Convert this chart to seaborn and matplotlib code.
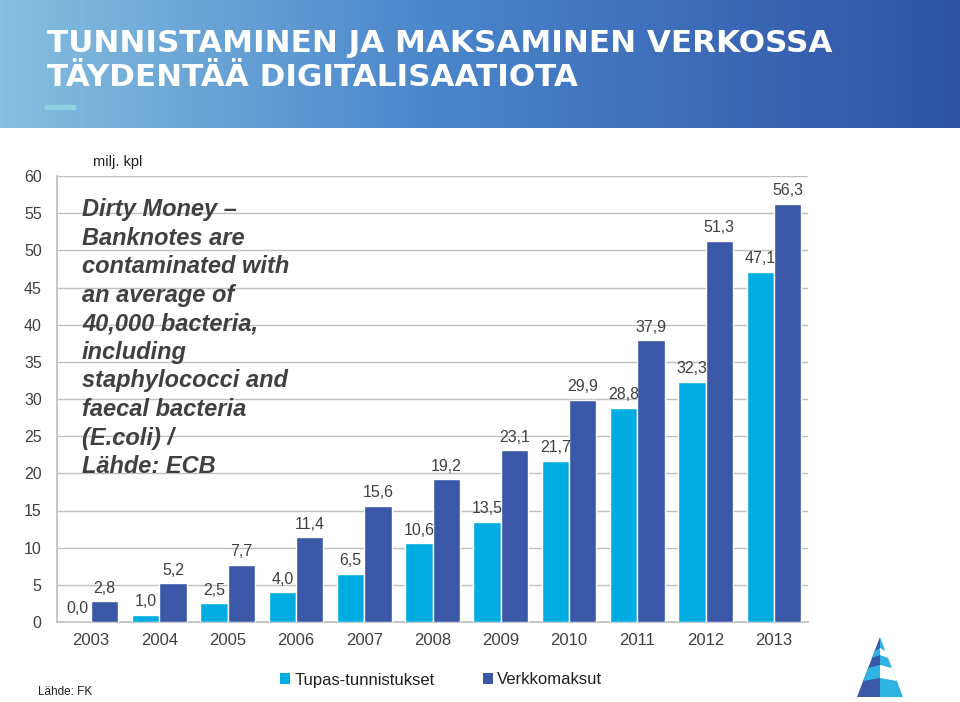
import numpy as np
import pandas as pd
import matplotlib
matplotlib.use("Agg")
import matplotlib.pyplot as plt
from matplotlib.patches import Patch, Polygon, Rectangle
import seaborn as sns

years = ["2003", "2004", "2005", "2006", "2007", "2008", "2009", "2010", "2011", "2012", "2013"]
tupas = [0.0, 1.0, 2.5, 4.0, 6.5, 10.6, 13.5, 21.7, 28.8, 32.3, 47.1]
verkko = [2.8, 5.2, 7.7, 11.4, 15.6, 19.2, 23.1, 29.9, 37.9, 51.3, 56.3]
series = ["Tupas-tunnistukset", "Verkkomaksut"]
colors = ["#00ADE2", "#3A57A8"]
y_ticks = [0, 5, 10, 15, 20, 25, 30, 35, 40, 45, 50, 55, 60]
title = "TUNNISTAMINEN JA MAKSAMINEN VERKOSSA\nTÄYDENTÄÄ DIGITALISAATIOTA"
note = ("Dirty Money –\nBanknotes are\ncontaminated with\nan average of\n40,000 bacteria,\n"
        "including\nstaphylococci and\nfaecal bacteria\n(E.coli) /\nLähde: ECB")

df = pd.DataFrame({
    "year": years * 2,
    "value": tupas + verkko,
    "series": [series[0]] * len(years) + [series[1]] * len(years),
})

sns.set_theme(style="white")
plt.rcParams["font.family"] = ["Liberation Sans", "DejaVu Sans"]

fig = plt.figure(figsize=(9.6, 7.02), dpi=100)

# header band with gradient
hax = fig.add_axes([0, 1 - 128 / 702, 1, 128 / 702])
grad = np.linspace(0, 1, 256)
c0 = np.array([0x86, 0xBF, 0xE0]) / 255
c1 = np.array([0x4A, 0x86, 0xCB]) / 255
c2 = np.array([0x2F, 0x52, 0xA6]) / 255
img = np.zeros((1, 256, 3))
for i, g in enumerate(grad):
    if g < 0.45:
        t = g / 0.45
        img[0, i] = c0 * (1 - t) + c1 * t
    else:
        t = (g - 0.45) / 0.55
        img[0, i] = c1 * (1 - t) + c2 * t
hax.imshow(img, aspect="auto", extent=[0, 1, 0, 1])
hax.set_xlim(0, 1); hax.set_ylim(0, 1)
hax.axis("off")
fig.text(47 / 960, 1 - 29 / 702, title, color="white", fontsize=22.3, fontweight="bold",
         va="top", ha="left", linespacing=1.2, family=["DejaVu Sans"])
fig.patches.append(Rectangle((45 / 960, 1 - 109 / 702), 30 / 960, 4 / 702,
                             transform=fig.transFigure, color="#8FD3E3", zorder=5))

ax = fig.add_axes([57 / 960, 1 - 622 / 702, (808 - 57) / 960, (622 - 176) / 702])
sns.barplot(data=df, x="year", y="value", hue="series", hue_order=series,
            palette=colors, width=0.8, saturation=1, legend=False, ax=ax, zorder=3)
ax.set_ylim(0, 60)
ax.set_xlim(-0.5, 10.5)
ax.set_yticks(y_ticks)
ax.yaxis.grid(True, color="#BFBFBF", linewidth=1, zorder=0)
ax.set_axisbelow(True)
ax.set_xlabel("")
ax.set_ylabel("")
for s in ["top", "right"]:
    ax.spines[s].set_visible(False)
ax.spines["left"].set_color("#BFBFBF")
ax.spines["bottom"].set_color("#BFBFBF")
ax.tick_params(axis="y", labelsize=11.5, colors="#404040", length=0, pad=11)
ax.tick_params(axis="x", labelsize=12, colors="#404040", length=0, pad=8)
ax.set_xticks(np.arange(-0.5, 11, 1), minor=True)
ax.tick_params(axis="x", which="minor", length=5, color="#BFBFBF", direction="out")

for cont in ax.containers:
    labs = [f"{b.get_height():.1f}".replace(".", ",") for b in cont]
    ax.bar_label(cont, labels=labs, padding=4, fontsize=11.5, color="#404040")

fig.text(93 / 960, 1 - 162 / 702, "milj. kpl", fontsize=10.5, color="#202020", va="center")
fig.text(82 / 960, 1 - 198 / 702, note, fontsize=17, fontweight="bold", fontstyle="italic",
         color="#404040", va="top", ha="left", linespacing=1.31)

handles = [Patch(facecolor=c, edgecolor="none") for c in colors]
fig.legend(handles, series, loc="center left", bbox_to_anchor=(265 / 960, 1 - 680 / 702), ncol=2,
           frameon=False, fontsize=12, handlelength=0.6, handleheight=0.6,
           handletextpad=0.25, columnspacing=2.9, labelcolor="#202020")

fig.text(38 / 960, 1 - 692 / 702, "Lähde: FK", fontsize=8.5, color="#202020", va="center")

# logo
def fp(x, y):
    return (x / 960, 1 - y / 702)
ax_x, ax_y, base_y, half = 880, 637, 697, 23

def xl(y):
    return ax_x - (y - ax_y) / (base_y - ax_y) * half

def xr(y):
    return ax_x + (y - ax_y) / (base_y - ax_y) * half

fig.patches.append(Polygon([fp(ax_x, ax_y), fp(xl(base_y), base_y), fp(ax_x, base_y)], closed=True,
                           transform=fig.transFigure, facecolor="#3A57A8", edgecolor="none"))
fig.patches.append(Polygon([fp(ax_x, ax_y), fp(ax_x, base_y), fp(xr(base_y), base_y)], closed=True,
                           transform=fig.transFigure, facecolor="#2FB3E3", edgecolor="none"))
for y0, y1 in [(651, 658), (668, 681)]:
    fig.patches.append(Polygon([fp(xl(y0), y0), fp(ax_x, y0 - 3), fp(ax_x, y1 - 3), fp(xl(y1), y1)],
                               closed=True, transform=fig.transFigure, facecolor="#2FB3E3",
                               edgecolor="none"))
    fig.patches.append(Polygon([fp(ax_x, y0 - 3), fp(xr(y0), y0), fp(xr(y1), y1), fp(ax_x, y1 - 3)],
                               closed=True, transform=fig.transFigure, facecolor="white",
                               edgecolor="none"))

fig.savefig("out.png", dpi=100)
